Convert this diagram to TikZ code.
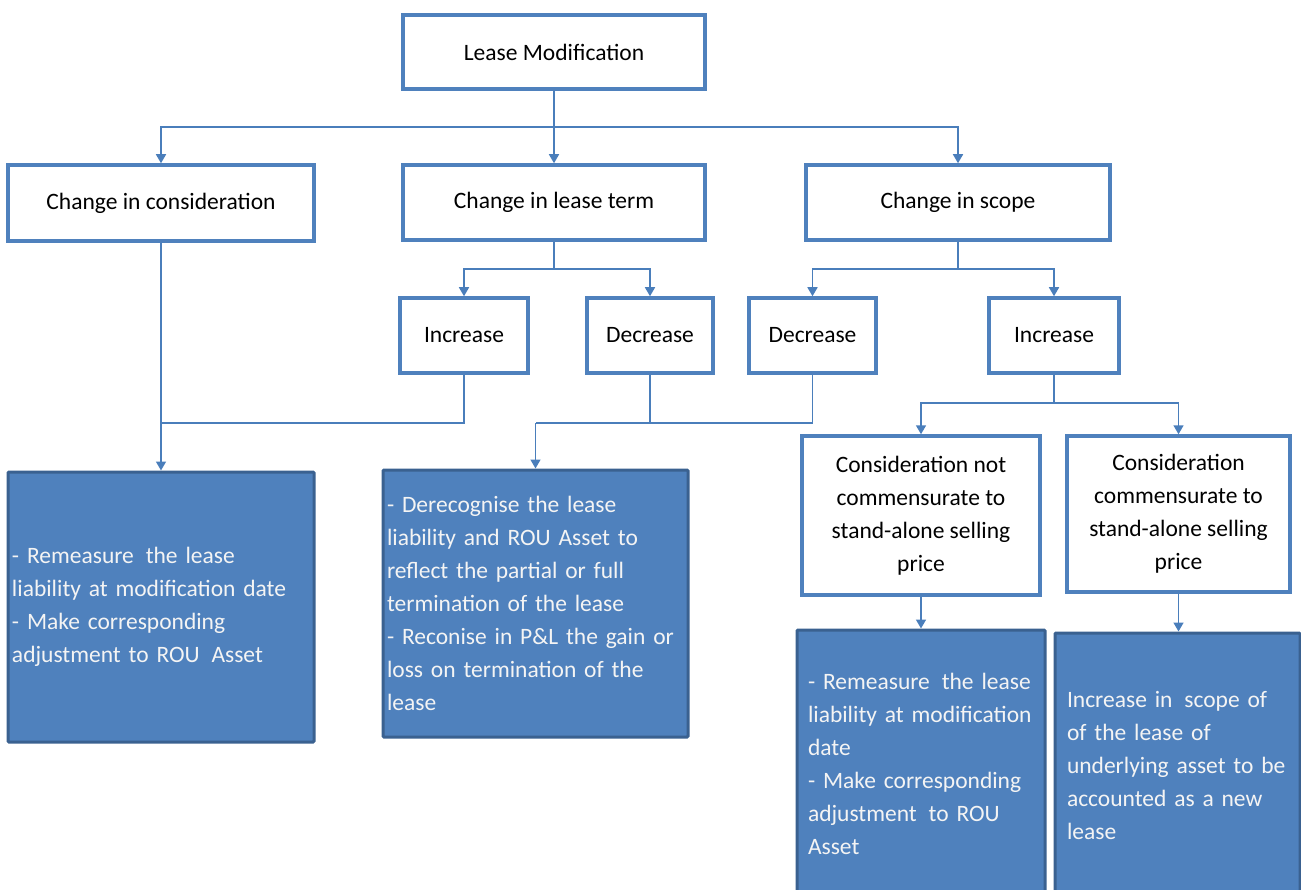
\documentclass[tikz,border=0pt]{standalone}
\usepackage{fontspec}
\setmainfont{Carlito}
\usetikzlibrary{arrows.meta}
\definecolor{boxblue}{HTML}{4F81BD}
\definecolor{boxdark}{HTML}{3A6190}
\definecolor{linkblue}{HTML}{4A7EBB}
\definecolor{paletext}{HTML}{F4F4F4}
\newcommand{\gap}{\hspace{4pt}}

\begin{document}
\begin{tikzpicture}[x=1pt,y=-1pt,
  every node/.style={font=\fontsize{23.5}{33}\selectfont},
  plain/.style={draw=boxblue, line width=3.5pt, fill=white, align=center, inner sep=0pt},
  filled/.style={draw=boxdark, line width=3pt, fill=boxblue, text=paletext,
    align=left, inner ysep=0pt, rounded corners=1pt},
  link/.style={draw=linkblue, line width=1.6pt},
  arr/.style={link, -{Triangle[length=9pt,width=10pt]}}]

\useasboundingbox (0,0) rectangle (1301,890);
\clip (0,0) rectangle (1301,890);

% root and first level
\node[plain, minimum width=302pt, minimum height=74pt] (lm) at (554,52) {Lease Modification};
\node[plain, minimum width=306pt, minimum height=76pt] (cc) at (161,203) {Change in consideration};
\node[plain, minimum width=302pt, minimum height=75pt] (clt) at (554,202.5) {Change in lease term};
\node[plain, minimum width=304pt, minimum height=75pt] (cs) at (958,202.5) {Change in scope};

% second level
\node[plain, minimum width=128pt, minimum height=75pt] (inc1) at (464,335.5) {Increase};
\node[plain, minimum width=126pt, minimum height=75pt] (dec1) at (650,335.5) {Decrease};
\node[plain, minimum width=127pt, minimum height=75pt] (dec2) at (812.5,335.5) {Decrease};
\node[plain, minimum width=130pt, minimum height=75pt] (inc2) at (1054,335.5) {Increase};

% scope increase split
\node[plain, minimum width=238pt, minimum height=159pt] (cnc) at (921,515.5)
  {Consideration not\\commensurate to\\stand-alone selling\\price};
\node[plain, minimum width=223pt, minimum height=156pt] (ccm) at (1178.5,514)
  {Consideration\\commensurate to\\stand-alone selling\\price};

% outcomes
\node[filled, minimum height=270pt, text width=298pt, inner xsep=4pt] (f1) at (161,607)
  {- Remeasure\gap{} the lease\\liability at modification date\\- Make corresponding\\adjustment to ROU\gap{} Asset};
\node[filled, minimum height=267pt, text width=297pt, inner xsep=4pt] (f2) at (535.5,603.5)
  {- Derecognise the lease\\liability and ROU Asset to\\reflect the partial or full\\termination of the lease\\- Reconise in P\&L the gain or\\loss on termination of the\\lease};
\node[filled, minimum height=267pt, text width=226pt, inner xsep=11pt] (f3) at (921,763.5)
  {- Remeasure\gap{} the lease\\liability at modification\\date\\- Make corresponding\\adjustment\gap{} to ROU\\Asset};
\node[filled, minimum height=264pt, text width=221pt, inner xsep=12pt] (f4) at (1177.5,765)
  {Increase in\gap{} scope of\\of the lease of\\underlying asset to be\\accounted as a new\\lease};

% junction points
\coordinate (j1) at (554,127);
\coordinate (j2) at (554,269);
\coordinate (j3) at (958,269);
\coordinate (j4) at (1054,403);
\coordinate (m1) at (161,423);
\coordinate (m2) at (535.5,423);

% connectors
\draw[link] (lm.south) -- (j1);
\draw[arr] (j1) -| (cc.north);
\draw[arr] (j1) -- (clt.north);
\draw[arr] (j1) -| (cs.north);

\draw[link] (clt.south) -- (j2);
\draw[arr] (j2) -| (inc1.north);
\draw[arr] (j2) -| (dec1.north);

\draw[link] (cs.south) -- (j3);
\draw[arr] (j3) -| (dec2.north);
\draw[arr] (j3) -| (inc2.north);

\draw[link] (inc2.south) -- (j4);
\draw[arr] (j4) -| (cnc.north);
\draw[arr] (j4) -| (ccm.north);

\draw[arr] (cc.south) -- (f1.north);
\draw[link] (inc1.south) |- (m1);

\draw[link] (dec1.south) |- (m2);
\draw[link] (dec2.south) |- (m2);
\draw[arr] (m2) -- (f2.north);

\draw[arr] (cnc.south) -- (cnc.south |- f3.north);
\draw[arr] (ccm.south) -- (ccm.south |- f4.north);
\end{tikzpicture}
\end{document}
